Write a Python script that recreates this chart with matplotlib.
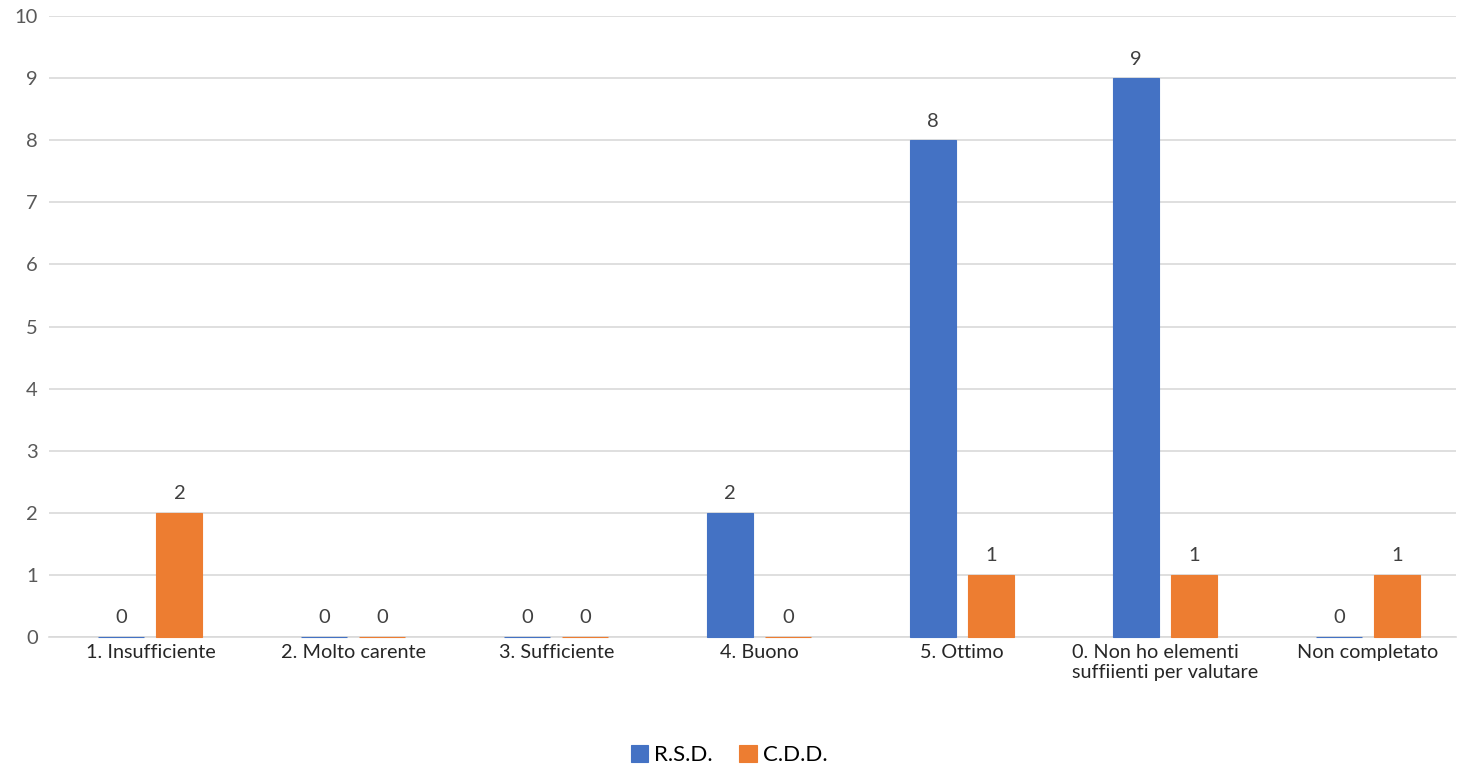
import matplotlib
matplotlib.use("Agg")
import matplotlib.pyplot as plt
import numpy as np

categories = ["1. Insufficiente", "2. Molto carente", "3. Sufficiente", "4. Buono",
              "5. Ottimo", "0. Non ho elementi\nsuffiienti per valutare", "Non completato"]
rsd = [0, 0, 0, 2, 8, 9, 0]
cdd = [2, 0, 0, 0, 1, 1, 1]
series_names = ["R.S.D.", "C.D.D."]
colors = ["#4472C4", "#ED7D31"]

plt.rcParams['font.family'] = ['Lato', 'DejaVu Sans']

fig = plt.figure(figsize=(14.58, 7.68), dpi=100)
ax = fig.add_axes([49/1458, 1-637/768, (1456-49)/1458, (637-16)/768])

x = np.arange(len(categories))
w = 0.227
off = 0.143
for vals, c, name, sgn in [(rsd, colors[0], series_names[0], -1), (cdd, colors[1], series_names[1], 1)]:
    bars = ax.bar(x + sgn*off, vals, width=w, color=c, edgecolor=c, linewidth=0.8,
                  label=name, zorder=4, clip_on=False)
    for xi, v in zip(x + sgn*off, vals):
        ax.text(xi, v + 0.17, str(v), ha='center', va='bottom', fontsize=14.5, color='#404040')

ax.set_xlim(-0.5, (1456-49)/202.9 - 0.5)
ax.set_ylim(0, 10)
ax.set_yticks(range(0, 11))
ax.set_xticks(x)
ax.set_xticklabels(categories, fontsize=14.3, color='#262626', linespacing=1.25)
for lbl in ax.get_xticklabels():
    lbl.set_verticalalignment('top')
    lbl.set_multialignment('left')
ax.tick_params(axis='y', labelsize=14.5, labelcolor='#595959', length=0, pad=8)
ax.tick_params(axis='x', length=0, pad=5)
ax.grid(axis='y', color='#d9d9d9', linewidth=1.2, zorder=0)
for s in ['top', 'right', 'left']:
    ax.spines[s].set_visible(False)
ax.spines['bottom'].set_color('#d9d9d9')
ax.spines['bottom'].set_linewidth(1.2)
ax.spines['bottom'].set_zorder(1)

fig.legend(loc='center', bbox_to_anchor=(0.5, 1-755/768), ncol=2, frameon=False,
           fontsize=16, handlelength=0.8, handleheight=0.8, handletextpad=0.25, columnspacing=1.2)

fig.savefig("out.png", dpi=100)
